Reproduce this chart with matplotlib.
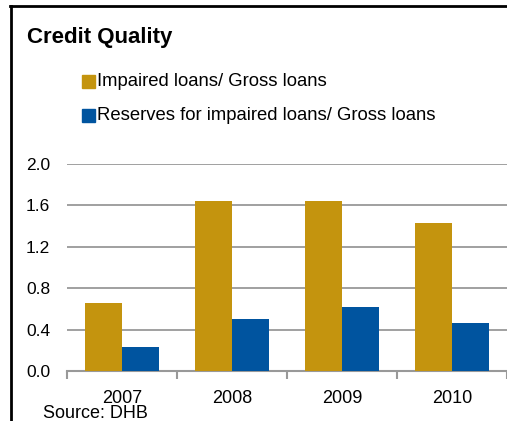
import matplotlib
matplotlib.use("Agg")
import matplotlib.pyplot as plt
from matplotlib.lines import Line2D
import numpy as np

plt.rcParams['font.family'] = ['Liberation Sans', 'DejaVu Sans']

years = ["2007", "2008", "2009", "2010"]
impaired = [0.66, 1.64, 1.64, 1.43]
reserves = [0.23, 0.50, 0.62, 0.46]
series_names = ["Impaired loans/ Gross loans", "Reserves for impaired loans/ Gross loans"]
yticks = [0.0, 0.4, 0.8, 1.2, 1.6, 2.0]

gold = "#C4940E"
blue = "#00549F"
grid = "#999999"

fig = plt.figure(figsize=(5.07, 4.21), dpi=100)
W, H = 507, 421
ax = fig.add_axes([67 / W, 1 - 371 / H, 440 / W, 207 / H])

x = np.arange(len(years))
bw = 0.335
ax.bar(x - bw / 2, impaired, width=bw, color=gold, zorder=3)
ax.bar(x + bw / 2, reserves, width=bw, color=blue, zorder=3)

ax.set_xlim(-0.5, 3.5)
ax.set_ylim(0, 2.0)
ax.set_yticks(yticks)
ax.set_yticklabels([f"{v:.1f}" for v in yticks], fontsize=12.5)
ax.tick_params(axis='y', length=0, pad=12)
ax.set_xticks(x)
ax.set_xticklabels(years, fontsize=13)
ax.set_xticks(np.arange(-0.5, len(years), 1.0), minor=True)
ax.tick_params(axis='x', which='major', length=0, pad=14)
ax.tick_params(axis='x', which='minor', length=6, width=1.5, color=grid, direction='out')

for s in ['top', 'right', 'left']:
    ax.spines[s].set_visible(False)
ax.spines['bottom'].set_color(grid)
ax.spines['bottom'].set_linewidth(1.5)
ax.yaxis.grid(True, color=grid, linewidth=1.3, zorder=0)
ax.set_axisbelow(True)

# Title and legend
fig.text(27 / W, 1 - 37 / H, "Credit Quality", fontsize=16, fontweight='bold', va='center', ha='left')
for i, (name, col) in enumerate(zip(series_names, [gold, blue])):
    yc = [81, 115][i]
    fig.patches.append(plt.Rectangle((82 / W, 1 - (yc + 6.5) / H), 13 / W, 13 / H,
                                     transform=fig.transFigure, color=col, figure=fig))
    fig.text(97 / W, 1 - yc / H, name, fontsize=13.3, va='center', ha='left')

fig.text(43 / W, 1 - 414 / H, "Source: DHB", fontsize=13, va='center', ha='left')

# frame border (top and left)
fig.add_artist(Line2D([11 / W, 11 / W], [0, 1 - 6 / H], transform=fig.transFigure, color='black', linewidth=2))
fig.add_artist(Line2D([10 / W, 1], [1 - 6 / H, 1 - 6 / H], transform=fig.transFigure, color='black', linewidth=2))

fig.savefig("out.png", dpi=100)
